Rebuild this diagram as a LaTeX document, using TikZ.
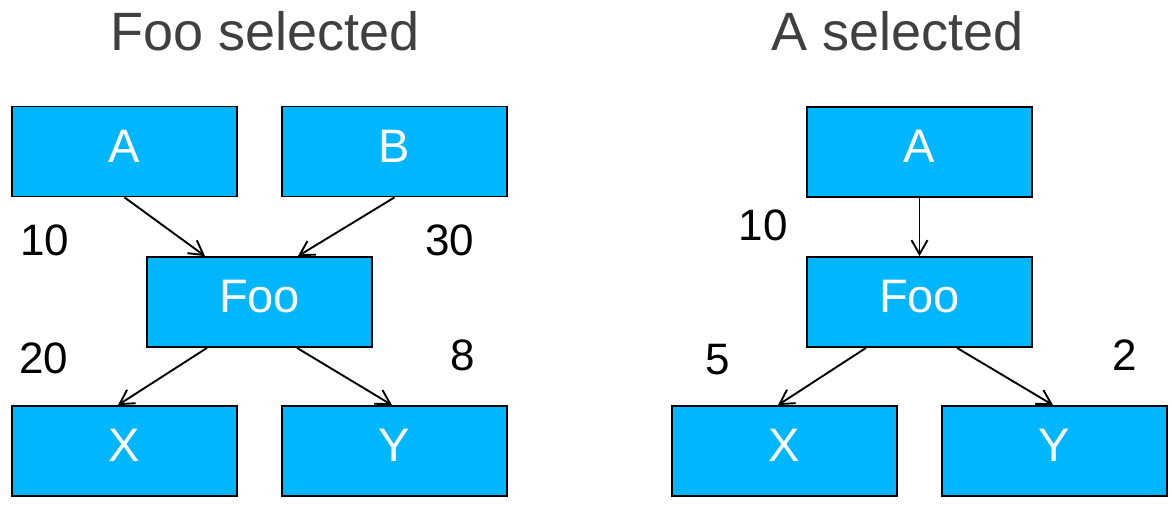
\documentclass[tikz,border=0pt]{standalone}
\usepackage{fontspec}
\setmainfont{Liberation Sans}
\usetikzlibrary{arrows.meta}
\definecolor{boxblue}{RGB}{0,183,255}
\definecolor{titlegray}{RGB}{64,64,64}
\begin{document}
\begin{tikzpicture}[x=1pt,y=-1pt,
  blk/.style={draw=black,line width=1.8pt,fill=boxblue,minimum width=225pt,minimum height=90pt,inner sep=0pt,
    text=white,text depth=11pt,font=\fontsize{47}{50}\selectfont},
  conn/.style={line width=1.9pt,-{Straight Barb[length=14pt,width=16pt,line width=1.9pt]}},
  num/.style={font=\fontsize{44}{48}\selectfont,text=black,inner sep=0pt},
  ttl/.style={font=\fontsize{54}{58}\selectfont,text=titlegray,inner sep=0pt}]
\useasboundingbox (0,0) rectangle (1172,505);

% left tree
\node[ttl] (t1) at (265,31) {Foo selected};
\node[blk] (a1) at (124.5,151.5) {A};
\node[blk] (b1) at (394.5,151.5) {B};
\node[blk] (f1) at (259.5,302) {Foo};
\node[blk] (x1) at (124.5,451) {X};
\node[blk] (y1) at (394.5,451) {Y};
\draw[conn] (a1.south) -- ([xshift=-54.5pt]f1.north);
\draw[conn] (b1.south) -- ([xshift=38.5pt]f1.north);
\draw[conn] ([xshift=-52.5pt]f1.south) -- ([xshift=-6.5pt]x1.north);
\draw[conn] ([xshift=37.5pt]f1.south) -- ([xshift=-2.5pt]y1.north);
\node[num] (n10a) at (45,240) {10};
\node[num] (n30) at (450,240) {30};
\node[num] (n20) at (44,358) {20};
\node[num] (n8) at (463,355) {8};

% right tree
\node[ttl] (t2) at (898,31) {A selected};
\node[blk] (a2) at (919.5,152) {A};
\node[blk] (f2) at (919.5,302) {Foo};
\node[blk] (x2) at (784.5,451) {X};
\node[blk] (y2) at (1054.5,451) {Y};
\draw[conn] (a2.south) -- (f2.north);
\draw[conn] ([xshift=-53.5pt]f2.south) -- ([xshift=-6.5pt]x2.north);
\draw[conn] ([xshift=37.5pt]f2.south) -- ([xshift=-1.5pt]y2.north);
\node[num] (n10b) at (763,225) {10};
\node[num] (n5) at (718,360) {5};
\node[num] (n2) at (1125,355) {2};
\end{tikzpicture}
\end{document}
